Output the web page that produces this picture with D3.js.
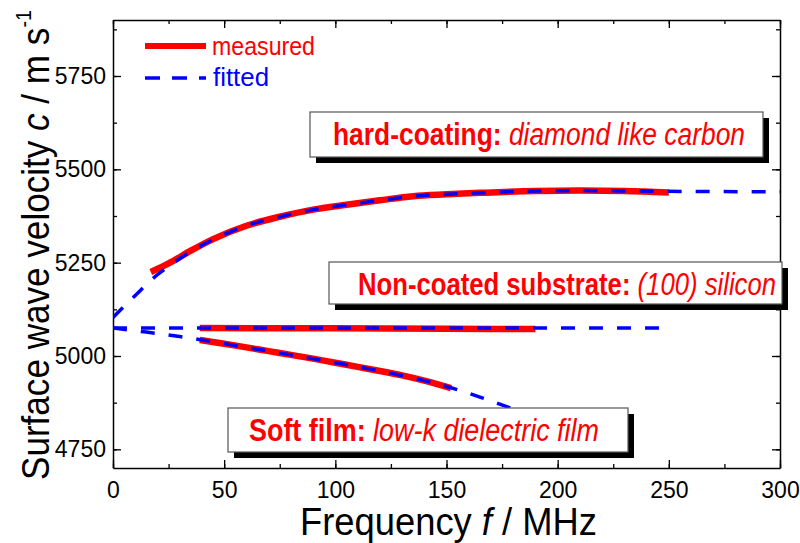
<!DOCTYPE html>
<html>
<head>
<meta charset="utf-8">
<script src="https://cdn.jsdelivr.net/npm/d3@7"></script>
<style>
  body { margin: 0; background: #fff; }
  text { font-family: "Liberation Sans Narrow", "Arial Narrow", "Liberation Sans", sans-serif; }
</style>
</head>
<body>
<div id="chart"></div>
<script>
// x ticks / y ticks
var xTicks = [0, 50, 100, 150, 200, 250, 300];
var yTicks = [4750, 5000, 5250, 5500, 5750];

// hard coating (DLC)
var dlcMeasFreq = [17, 25, 35, 45, 60, 75, 90, 105, 120, 135, 150, 165, 190, 210, 230, 250];
var dlcMeasVel = [5225, 5248, 5282, 5313, 5349, 5373, 5392, 5405, 5417, 5428, 5433, 5437, 5442, 5443, 5442, 5438];
var dlcFitFreq = [0, 5, 10, 18, 25, 35, 45, 60, 75, 90, 105, 120, 135, 150, 165, 190, 210, 250, 300];
var dlcFitVel = [5103, 5133, 5162, 5208, 5240, 5280, 5312, 5349, 5373, 5392, 5405, 5417, 5428, 5433, 5437, 5442, 5443, 5441, 5440];

// non-coated silicon
var siMeasFreq = [39, 100, 150, 190];
var siMeasVel = [5075, 5074, 5073, 5072];
var siFitFreq = [0, 250];
var siFitVel = [5075, 5075];

// soft film (low-k)
var softMeasFreq = [39, 50, 60, 70, 80, 90, 100, 110, 120, 130, 140, 152];
var softMeasVel = [5043, 5033, 5023, 5013, 5003, 4993, 4982, 4971, 4960, 4948, 4934, 4914];
var softFitFreq = [0, 15, 30, 40, 60, 80, 100, 120, 140, 152, 166, 180, 200];
var softFitVel = [5075, 5064, 5052, 5043, 5023, 5003, 4982, 4960, 4934, 4915, 4888, 4858, 4812];

var width = 800, height = 543;
var mLeft = 113, mRight = 780, mTop = 20, mBottom = 468;

var svg = d3.select('#chart').append('svg')
    .attr('width', width)
    .attr('height', height);

var x = d3.scaleLinear().domain([0, 300]).range([mLeft, mRight]);
var y = d3.scaleLinear().domain([4700, 5900]).range([mBottom, mTop]);

var xMinor = d3.range(0, 301, 25);
var yMinor = d3.range(4750, 5900, 125);

// axes, ticks pointing inwards on all four sides
function drawAxis(axis, tr, minor, major, labels) {
    var g = svg.append('g').attr('transform', tr);
    g.call(axis.tickValues(minor).tickSizeInner(-4).tickSizeOuter(0).tickFormat(''));
    var g2 = svg.append('g').attr('transform', tr);
    g2.call(axis.tickValues(major).tickSizeInner(-8).tickSizeOuter(0)
        .tickFormat(labels ? d3.format('d') : ''));
    g2.select('.domain').remove();
    g.select('.domain').attr('stroke-width', 1.5);
    return g2;
}

var bx = drawAxis(d3.axisBottom(x), 'translate(0,' + mBottom + ')', xMinor, xTicks, true);
var lx = drawAxis(d3.axisLeft(y), 'translate(' + mLeft + ',0)', yMinor, yTicks, true);
drawAxis(d3.axisTop(x), 'translate(0,' + mTop + ')', xMinor, xTicks, false);
drawAxis(d3.axisRight(y), 'translate(' + mRight + ',0)', yMinor, yTicks, false);
svg.selectAll('.tick line').attr('stroke-width', 1.3);
bx.selectAll('.tick text').attr('font-size', 23).attr('fill', '#000')
    .attr('y', 8).attr('dy', '0.95em');
lx.selectAll('.tick text').attr('font-size', 23).attr('fill', '#000')
    .attr('x', -7);

// clip for curves
svg.append('clipPath').attr('id', 'clip')
    .append('rect').attr('x', mLeft).attr('y', mTop)
    .attr('width', mRight - mLeft).attr('height', mBottom - mTop);

var line = d3.line()
    .x(function(d) { return x(d[0]); })
    .y(function(d) { return y(d[1]); })
    .curve(d3.curveMonotoneX);

function pairs(f, v) { return f.map(function(d, i) { return [d, v[i]]; }); }

var measured = [pairs(dlcMeasFreq, dlcMeasVel), pairs(siMeasFreq, siMeasVel), pairs(softMeasFreq, softMeasVel)];
var fitted = [pairs(dlcFitFreq, dlcFitVel), pairs(siFitFreq, siFitVel), pairs(softFitFreq, softFitVel)];

var curves = svg.append('g').attr('clip-path', 'url(#clip)');
curves.selectAll('.meas').data(measured).enter().append('path')
    .attr('class', 'meas')
    .attr('d', line)
    .attr('fill', 'none')
    .attr('stroke', '#ff0000')
    .attr('stroke-width', 6.5);
curves.selectAll('.fit').data(fitted).enter().append('path')
    .attr('class', 'fit')
    .attr('d', line)
    .attr('fill', 'none')
    .attr('stroke', '#0000ff')
    .attr('stroke-width', 3.5)
    .attr('stroke-dasharray', '14,14');

// annotation boxes
var boxes = [
    {x: 310, y: 112, w: 453, h: 45, bold: 'hard-coating:', ital: ' diamond like carbon', tx: 333, tl: 412},
    {x: 329, y: 262, w: 453, h: 42, bold: 'Non-coated substrate:', ital: ' (100) silicon', tx: 358, tl: 418},
    {x: 228, y: 408, w: 400, h: 44, bold: 'Soft film:', ital: ' low-k dielectric film', tx: 249, tl: 350}
];
boxes.forEach(function(b) {
    var g = svg.append('g');
    g.append('rect').attr('x', b.x + 6).attr('y', b.y + 6)
        .attr('width', b.w).attr('height', b.h).attr('fill', '#000');
    g.append('rect').attr('x', b.x).attr('y', b.y)
        .attr('width', b.w).attr('height', b.h)
        .attr('fill', '#fff').attr('stroke', '#555').attr('stroke-width', 1.2);
    var t = g.append('text').attr('x', b.tx).attr('y', b.y + 33)
        .attr('font-size', 31).attr('fill', '#ff0000')
        .attr('textLength', b.tl).attr('lengthAdjust', 'spacingAndGlyphs');
    t.append('tspan').attr('font-weight', 'bold').text(b.bold);
    t.append('tspan').attr('font-style', 'italic').text(b.ital);
});

// legend
var leg = svg.append('g');
leg.append('line').attr('x1', 145).attr('x2', 206).attr('y1', 46).attr('y2', 46)
    .attr('stroke', '#ff0000').attr('stroke-width', 6);
leg.append('text').attr('x', 212).attr('y', 55).attr('font-size', 26)
    .attr('fill', '#ff0000').attr('textLength', 103).attr('lengthAdjust', 'spacingAndGlyphs')
    .text('measured');
leg.append('line').attr('x1', 145).attr('x2', 206).attr('y1', 78).attr('y2', 78)
    .attr('stroke', '#0000ff').attr('stroke-width', 3.5).attr('stroke-dasharray', '15,12');
leg.append('text').attr('x', 213).attr('y', 86).attr('font-size', 26)
    .attr('fill', '#0000ff').attr('textLength', 56).attr('lengthAdjust', 'spacingAndGlyphs')
    .text('fitted');

// axis titles
var xt = svg.append('text').attr('x', 300).attr('y', 535)
    .attr('font-size', 39).attr('fill', '#000')
    .attr('textLength', 297).attr('lengthAdjust', 'spacingAndGlyphs');
xt.append('tspan').text('Frequency ');
xt.append('tspan').attr('font-style', 'italic').text('f');
xt.append('tspan').text(' / MHz');

var yt = svg.append('text')
    .attr('transform', 'translate(49,480) rotate(-90)')
    .attr('font-size', 39).attr('fill', '#000')
    .attr('textLength', 470).attr('lengthAdjust', 'spacingAndGlyphs');
yt.append('tspan').text('Surface wave velocity ');
yt.append('tspan').attr('font-style', 'italic').text('c');
yt.append('tspan').text(' / m s');
yt.append('tspan').attr('font-size', 22).attr('dy', -18).text('-1');
</script>
</body>
</html>
